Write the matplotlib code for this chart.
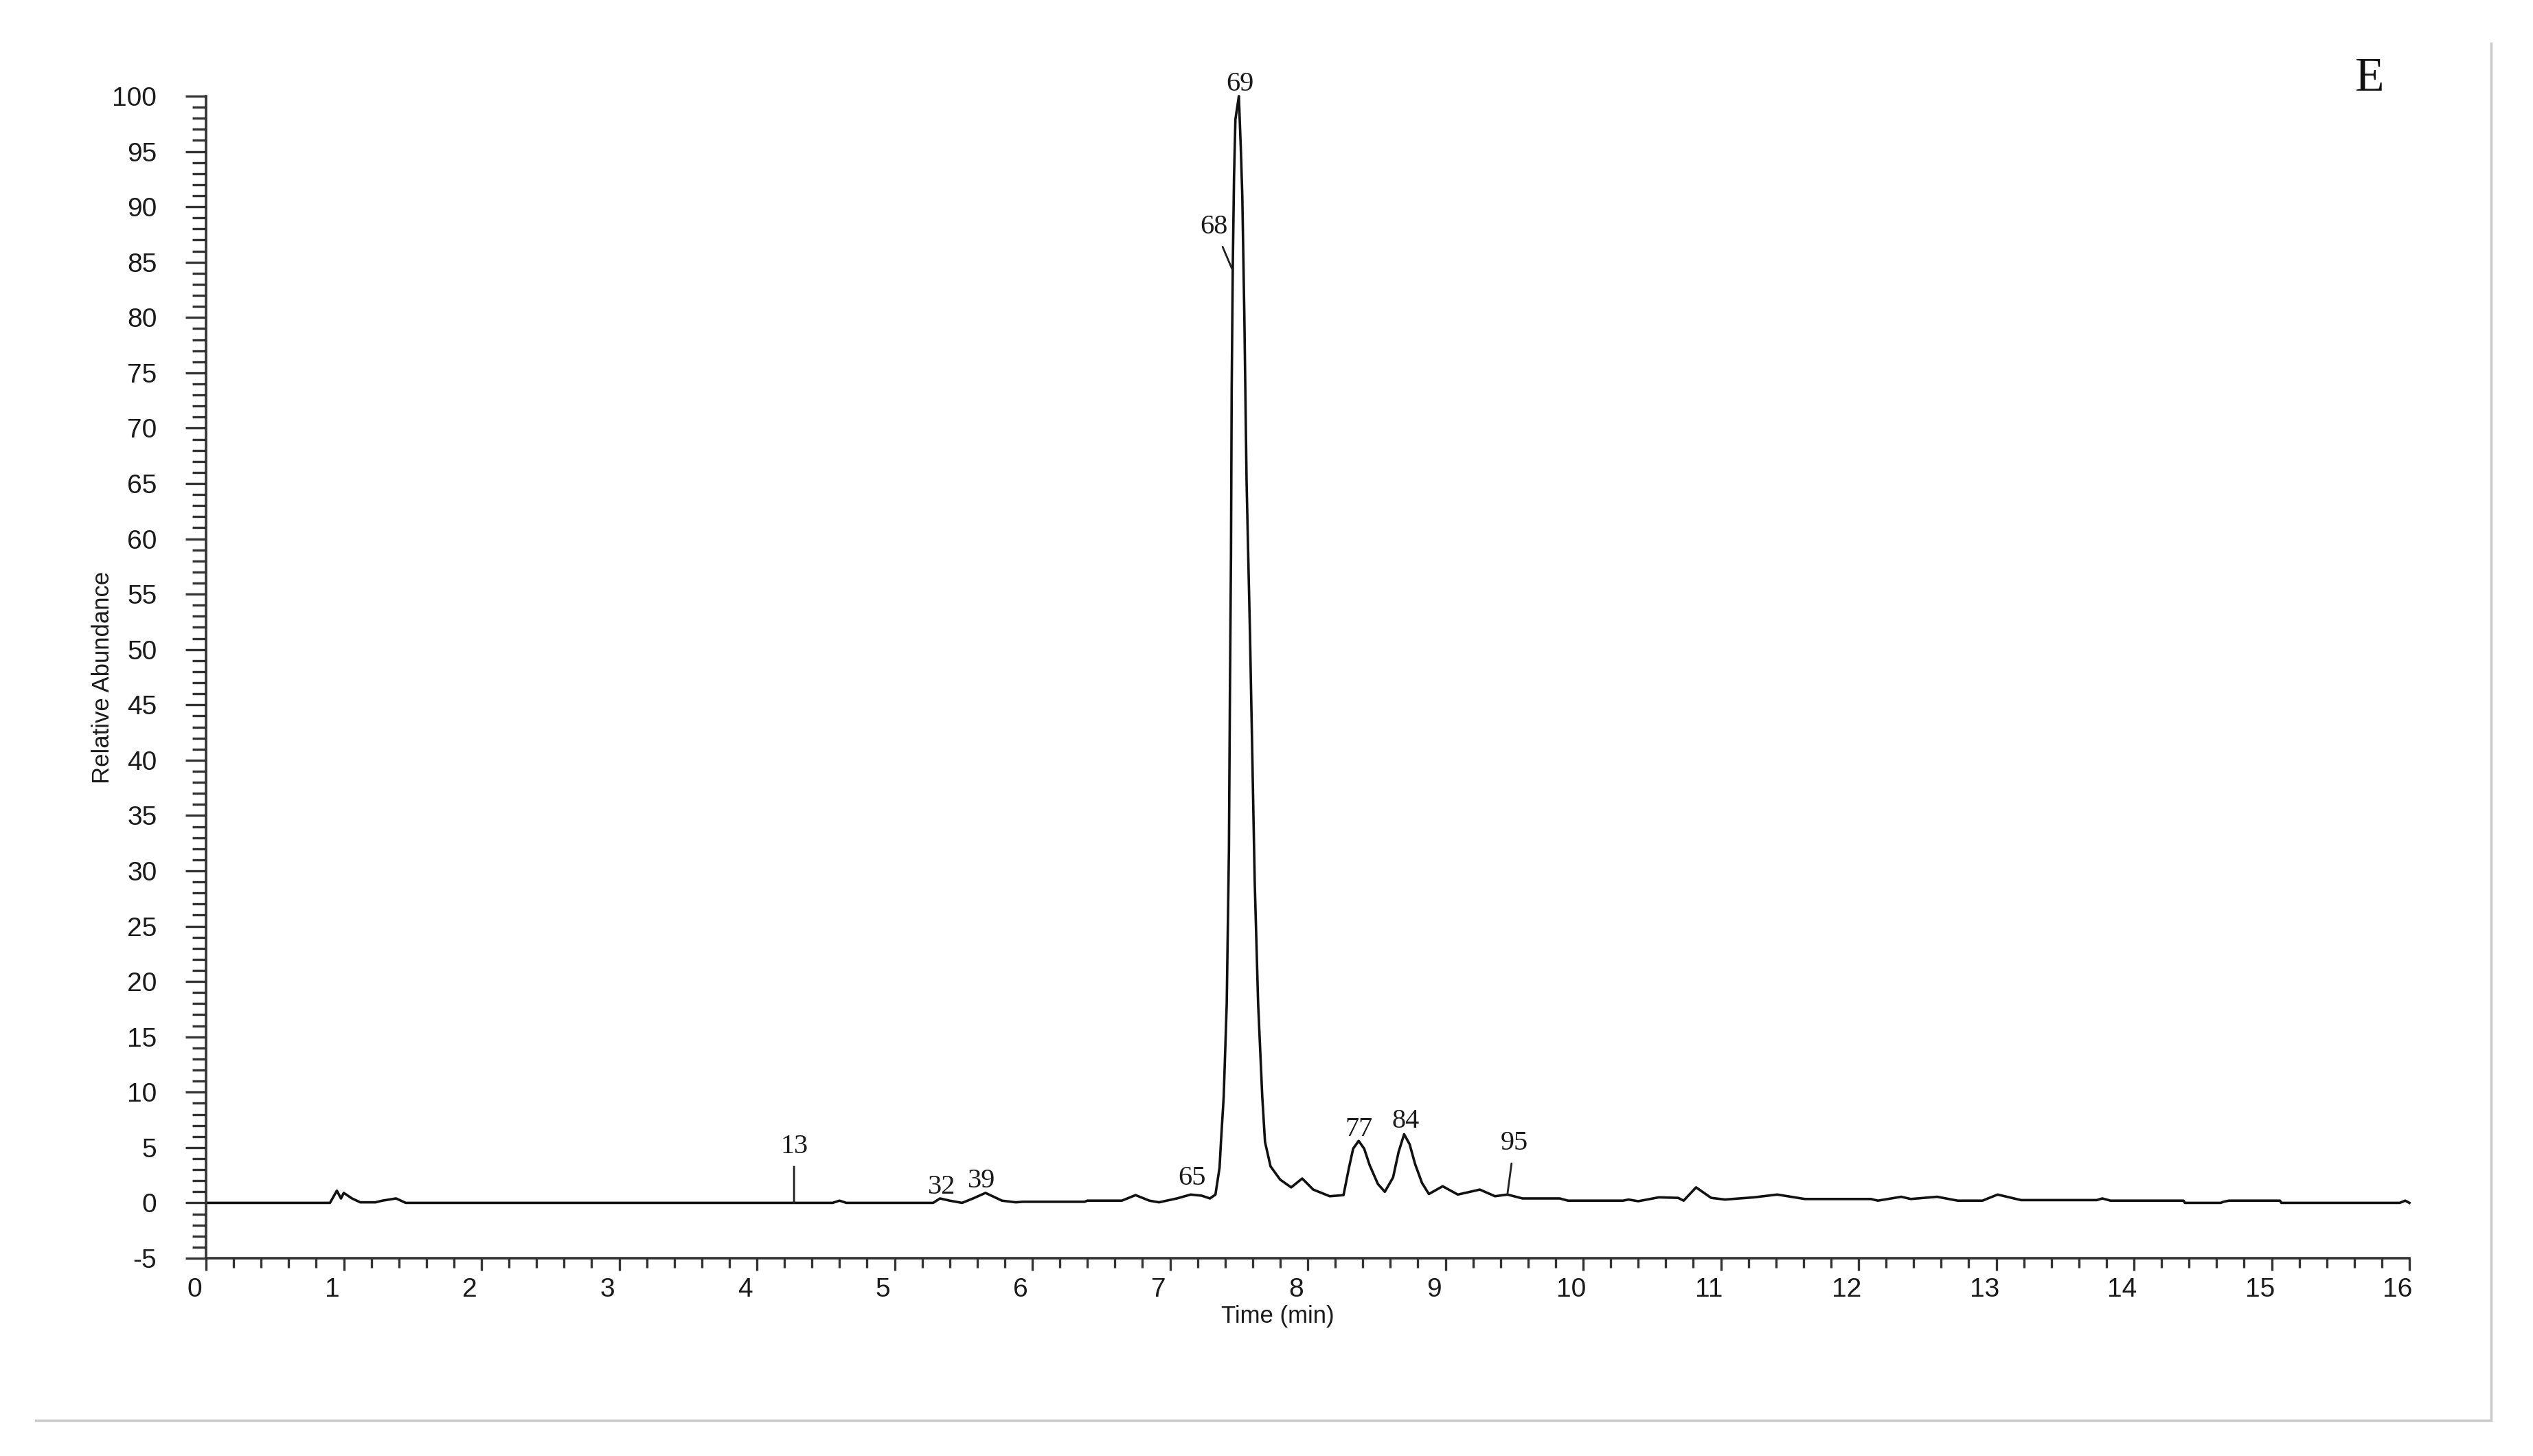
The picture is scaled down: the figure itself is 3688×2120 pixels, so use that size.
"""Total ion chromatogram, panel E: relative abundance vs retention time."""
import matplotlib
matplotlib.use('Agg')
import matplotlib.pyplot as plt
from matplotlib.lines import Line2D
from matplotlib.ticker import MultipleLocator
from matplotlib.transforms import ScaledTranslation

plt.rcParams['axes.unicode_minus'] = False

# trace (time in min, relative abundance in %)
time_min = [
    0.00, 0.90, 0.95, 0.98, 1.00, 1.06, 1.12, 1.23, 1.28, 1.38, 1.45,
    4.55, 4.60, 4.65, 5.28, 5.33, 5.40, 5.49, 5.57, 5.66, 5.78, 5.88,
    5.93, 6.03, 6.38, 6.40, 6.65, 6.75, 6.85, 6.92, 7.05, 7.15, 7.23,
    7.29, 7.33, 7.36, 7.37, 7.39, 7.412, 7.428, 7.435, 7.443, 7.448,
    7.456, 7.465, 7.475, 7.50, 7.515, 7.525, 7.54, 7.556, 7.581, 7.598,
    7.615, 7.64, 7.67, 7.69, 7.73, 7.80, 7.88, 7.96, 8.04, 8.16, 8.26,
    8.30, 8.33, 8.37, 8.41, 8.45, 8.51, 8.56, 8.62, 8.66, 8.70, 8.74,
    8.78, 8.83, 8.88, 8.98, 9.09, 9.25, 9.36, 9.45, 9.56, 9.83, 9.89,
    10.29, 10.33, 10.40, 10.55, 10.69, 10.73, 10.82, 10.93, 11.03,
    11.24, 11.41, 11.61, 12.09, 12.14, 12.31, 12.38, 12.57, 12.72,
    12.90, 13.01, 13.18, 13.73, 13.77, 13.83, 14.36, 14.37, 14.63,
    14.65, 14.69, 15.06, 15.07, 15.93, 15.97, 16.00,
]
abundance = [
    0.0, 0.0, 1.1, 0.4, 0.9, 0.4, 0.05, 0.05, 0.2, 0.4, 0.0,
    0.0, 0.2, 0.0, 0.0, 0.4, 0.2, 0.0, 0.4, 0.9, 0.2, 0.05,
    0.1, 0.1, 0.1, 0.2, 0.2, 0.7, 0.2, 0.05, 0.4, 0.75, 0.65,
    0.4, 0.75, 3.2, 5.5, 9.6, 18.0, 31.9, 45.8, 58.6, 73.6,
    84.7, 92.7, 97.9, 100.0, 95.0, 91.0, 80.0, 65.2, 51.3, 40.2,
    29.1, 18.0, 9.6, 5.5, 3.3, 2.1, 1.4, 2.2, 1.2, 0.6, 0.7,
    3.2, 4.9, 5.6, 4.9, 3.4, 1.7, 1.0, 2.3, 4.6, 6.2, 5.3,
    3.5, 1.8, 0.8, 1.5, 0.75, 1.2, 0.6, 0.75, 0.4, 0.4, 0.2,
    0.2, 0.3, 0.15, 0.5, 0.45, 0.2, 1.4, 0.45, 0.3,
    0.5, 0.75, 0.35, 0.35, 0.2, 0.55, 0.35, 0.55, 0.2,
    0.2, 0.75, 0.25, 0.25, 0.4, 0.2, 0.2, 0.0, 0.0,
    0.1, 0.2, 0.2, 0.0, 0.0, 0.2, 0.0,
]

# peak numbers: label centre, and the point a leader line goes to (None = no line)
peak_ids = ['13', '32', '39', '65', '68', '69', '77', '84', '95']
label_t = [4.27, 5.34, 5.63, 7.16, 7.32, 7.51, 8.37, 8.71, 9.50]
label_y = [5.1, 1.45, 2.0, 2.2, 88.2, 101.1, 6.65, 7.35, 5.4]
leader_t = [4.27, None, None, None, 7.45, None, None, None, 9.45]
leader_y = [0.0, None, None, None, 84.4, None, None, None, 0.75]

x_limits = (0, 16)
y_limits = (-5, 100)

AXIS_COLOR = '#333333'
TEXT_COLOR = '#1a1a1a'
FRAME_COLOR = '#c8c8c8'
SERIF = ['Liberation Serif', 'DejaVu Serif']
SANS = ['Liberation Sans', 'DejaVu Sans']

W, H, DPI = 3688, 2120, 200


def style_axes(ax, fig):
    ax.set_xlim(*x_limits)
    ax.set_ylim(*y_limits)
    for side in ('top', 'right'):
        ax.spines[side].set_visible(False)
    for side in ('left', 'bottom'):
        ax.spines[side].set_color(AXIS_COLOR)
        ax.spines[side].set_linewidth(1.3)

    ax.xaxis.set_major_locator(MultipleLocator(1))
    ax.xaxis.set_minor_locator(MultipleLocator(0.2))
    ax.yaxis.set_major_locator(MultipleLocator(5))
    ax.yaxis.set_minor_locator(MultipleLocator(1))

    ax.tick_params(axis='x', which='major', length=6.5, width=1.2, pad=3.6,
                   color=AXIS_COLOR, labelsize=14, labelcolor=TEXT_COLOR)
    ax.tick_params(axis='x', which='minor', length=5, width=1.2, color=AXIS_COLOR)
    ax.tick_params(axis='y', which='major', length=10.8, width=1.2, pad=15,
                   color=AXIS_COLOR, labelsize=14, labelcolor=TEXT_COLOR)
    ax.tick_params(axis='y', which='minor', length=7.2, width=1.2, color=AXIS_COLOR)

    for lab in ax.get_xticklabels() + ax.get_yticklabels():
        lab.set_family(SANS)
    # x labels sit a little left of their ticks in the original
    shift = ScaledTranslation(-17 / DPI, 0, fig.dpi_scale_trans)
    for lab in ax.get_xticklabels():
        lab.set_transform(lab.get_transform() + shift)

    ax.set_xlabel('Time (min)', fontsize=12.5, family=SANS, color=TEXT_COLOR, va='center')
    ax.xaxis.set_label_coords(0.4863, -0.0502)
    ax.set_ylabel('Relative Abundance', fontsize=12.5, family=SANS, color=TEXT_COLOR,
                  va='center')
    ax.yaxis.set_label_coords(-0.0468, 0.5)


def label_peaks(ax):
    for pid, tx, ty, lt, ly in zip(peak_ids, label_t, label_y, leader_t, leader_y):
        if lt is None:
            ax.text(tx, ty, pid, ha='center', va='center', fontsize=14.5,
                    family=SERIF, color=TEXT_COLOR, clip_on=False)
        else:
            ax.annotate(pid, xy=(lt, ly), xytext=(tx, ty), ha='center', va='center',
                        fontsize=14.5, family=SERIF, color=TEXT_COLOR,
                        arrowprops=dict(arrowstyle='-', color='#222222', lw=1.0,
                                        shrinkA=2, shrinkB=0))


def main():
    fig = plt.figure(figsize=(W / DPI, H / DPI), dpi=DPI)
    ax = fig.add_axes([300 / W, 1 - 1832 / H, 3208 / W, 1692 / H])
    ax.plot(time_min, abundance, color='#111111', lw=1.3, clip_on=False,
            solid_joinstyle='round')
    style_axes(ax, fig)
    label_peaks(ax)

    fig.text(3450 / W, 1 - 115 / H, 'E', ha='center', va='center', fontsize=25,
             family=SERIF, color='#111111')

    # thin grey frame lines at the right and bottom of the panel
    fig.add_artist(Line2D([3627 / W, 3627 / W], [1 - 63 / H, 1 - 2068 / H],
                          transform=fig.transFigure, color=FRAME_COLOR, lw=1.2))
    fig.add_artist(Line2D([52 / W, 3627 / W], [1 - 2068 / H, 1 - 2068 / H],
                          transform=fig.transFigure, color=FRAME_COLOR, lw=1.2))

    fig.savefig('out.png', dpi=DPI, facecolor='white')


if __name__ == '__main__':
    main()
